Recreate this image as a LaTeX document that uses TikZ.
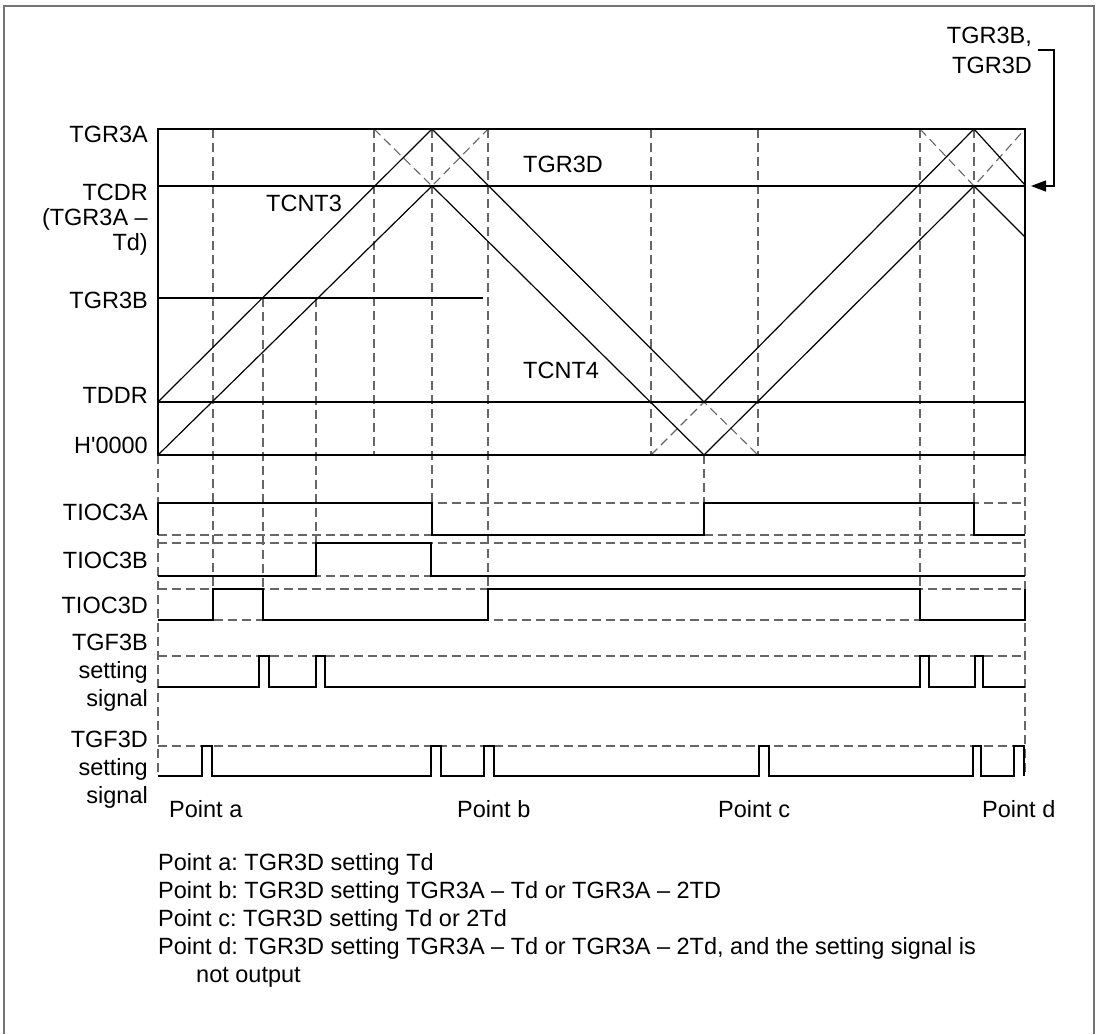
\documentclass[tikz,border=0pt]{standalone}
\usepackage{fontspec}
\setmainfont{Liberation Sans}[Ligatures=TeXOff]
\usetikzlibrary{arrows.meta}
\frenchspacing
\begin{document}
\begin{tikzpicture}[x=1pt,y=-1pt,
  sig/.style={line width=1.2pt, black, line join=miter},
  grid/.style={line width=1.1pt, black!60, dash pattern=on 9pt off 5pt},
  lbl/.style={inner sep=0pt, font=\fontsize{23.5}{28}\selectfont},
  lbr/.style={lbl, anchor=base east},
  lbw/.style={lbl, anchor=base west},
  tip/.style={-{Triangle[length=15pt,width=11pt]}}
]
\useasboundingbox (0,0) rectangle (1099,1034);
\draw[line width=1.2pt, black!55] (4,1034) -- (4,6) -- (1094,6) -- (1094,1034);

% dashed helper lines
\foreach \x/\a/\b in {213/129/589, 263/298/589, 316/298/543, 374/129/455,
  432/129/503, 488/129/589, 651/129/455, 704/455/503, 758/129/455,
  920/129/589, 974/129/503, 158/455/776, 1025/455/776}
  \draw[grid] (\x,\a) -- (\x,\b);
\draw[grid] (374,129) -- (432,186) -- (488,129);
\draw[grid] (920,129) -- (974,186) -- (1025,129);
\draw[grid] (651,455) -- (704,402) -- (758,455);
\foreach \y in {503,535,543,576,589,620,656,746}
  \draw[grid] (158,\y) -- (1025,\y);

% counter area
\draw[sig] (158,129) rectangle (1025,455);
\draw[sig] (158,186) -- (1025,186);
\draw[sig] (158,402) -- (1025,402);
\draw[sig] (158,298) -- (483,298);
\draw[sig] (158,402) -- (432,129) -- (704,402) -- (974,129) -- (1025,185);
\draw[sig] (158,455) -- (432,186) -- (704,455) -- (974,186) -- (1025,237);

% waveforms
\draw[sig] (158,535) -- (158,503) -- (432,503) -- (432,535) -- (704,535) -- (704,503)
  -- (974,503) -- (974,535) -- (1025,535);
\draw[sig] (158,576) -- (316,576) -- (316,543) -- (431,543) -- (431,576) -- (1025,576);
\draw[sig] (158,620) -- (213,620) -- (213,589) -- (263,589) -- (263,620) -- (488,620)
  -- (488,589) -- (920,589) -- (920,620) -- (1025,620) -- (1025,589);
\draw[sig] (158,687) -- (259,687) -- (259,656) -- (269,656) -- (269,687)
  -- (316,687) -- (316,656) -- (325,656) -- (325,687)
  -- (920,687) -- (920,656) -- (929,656) -- (929,687)
  -- (975,687) -- (975,656) -- (983,656) -- (983,687) -- (1025,687);
\draw[sig] (158,776) -- (202,776) -- (202,746) -- (212,746) -- (212,776)
  -- (431,776) -- (431,746) -- (441,746) -- (441,776)
  -- (484,776) -- (484,746) -- (494,746) -- (494,776)
  -- (759,776) -- (759,746) -- (769,746) -- (769,776)
  -- (973,776) -- (973,746) -- (981,746) -- (981,776)
  -- (1014,776) -- (1014,746) -- (1024,746) -- (1024,776);

% left labels
\node[lbr] (lA) at (148,142) {TGR3A};
\node[lbr] (lC1) at (148,200) {TCDR};
\node[lbr] (lC2) at (148,225) {(TGR3A –};
\node[lbr] (lC3) at (148,250) {Td)};
\node[lbr] (lB) at (148,308) {TGR3B};
\node[lbr] (lT) at (148,403) {TDDR};
\node[lbr] (lH) at (148,453) {H'0000};
\node[lbr] (s1) at (148,520) {TIOC3A};
\node[lbr] (s2) at (148,568) {TIOC3B};
\node[lbr] (s3) at (148,613) {TIOC3D};
\node[lbr] (s4a) at (148,650) {TGF3B};
\node[lbr] (s4b) at (148,678) {setting};
\node[lbr] (s4c) at (148,706) {signal};
\node[lbr] (s5a) at (148,747) {TGF3D};
\node[lbr] (s5b) at (148,775) {setting};
\node[lbr] (s5c) at (148,803) {signal};

% in-plot labels
\node[lbw] (tgr3d) at (523,172) {TGR3D};
\node[lbw] (tcnt3) at (266,211) {TCNT3};
\node[lbw] (tcnt4) at (523,378) {TCNT4};

% points
\node[lbw] (pa) at (169,817) {Point a};
\node[lbw] (pb) at (457,817) {Point b};
\node[lbw] (pc) at (718,817) {Point c};
\node[lbw] (pd) at (982,817) {Point d};

% top-right annotation
\node[lbr] (tr1) at (1032,43) {TGR3B,};
\node[lbr] (tr2) at (1032,73) {TGR3D};
\coordinate (cs) at (1038,50);
\coordinate (ce) at (1031,186);
\draw[line width=1.2pt, tip] (cs) -- (1054,50) -- (1054,186) -- (ce);

% notes
\node[lbw] (n1) at (158,870) {Point a: TGR3D setting Td};
\node[lbw] (n2) at (158,898) {Point b: TGR3D setting TGR3A – Td or TGR3A – 2TD};
\node[lbw] (n3) at (158,926) {Point c: TGR3D setting Td or 2Td};
\node[lbw] (n4) at (158,954) {Point d: TGR3D setting TGR3A – Td or TGR3A – 2Td, and the setting signal is};
\node[lbw] (n5) at (196,982) {not output};
\end{tikzpicture}
\end{document}
